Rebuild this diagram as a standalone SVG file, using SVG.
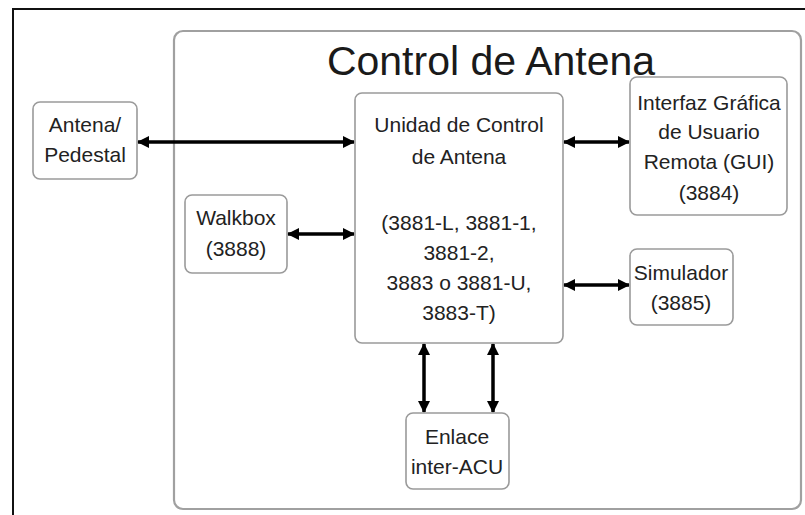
<svg xmlns="http://www.w3.org/2000/svg" width="805" height="515" viewBox="0 0 805 515">
<defs>
<style>
.box{fill:#fff;stroke:#9a9a9a;stroke-width:1.6}
.cont{fill:#fff;stroke:#a0a0a0;stroke-width:2.2}
.t{font-family:"Liberation Sans",Arial,sans-serif;font-size:21px;fill:#222;text-anchor:middle}
.title{font-family:"Liberation Sans",Arial,sans-serif;font-size:41px;fill:#1a1a1a;text-anchor:middle}
.c{stroke:#000;stroke-width:3.5;fill:none;marker-start:url(#ah);marker-end:url(#ah)}
</style>
<marker id="ah" viewBox="0 0 12 12" refX="11" refY="6" markerWidth="12" markerHeight="12" markerUnits="userSpaceOnUse" orient="auto-start-reverse">
<path d="M0,0 L12,6 L0,12 z" fill="#000"/>
</marker>
</defs>
<rect width="805" height="515" fill="#fff"/>
<g id="frame">
<path d="M13,515 L13,9 L805,9" fill="none" stroke="#111" stroke-width="2"/>
</g>
<g id="container">
<rect class="cont" x="174" y="31" width="627" height="478" rx="9"/>
<text class="title" x="491" y="75">Control de Antena</text>
</g>
<g id="connectors">
<line class="c" x1="138" y1="142" x2="354" y2="142"/>
<line class="c" x1="288" y1="234" x2="354" y2="234"/>
<line class="c" x1="564" y1="142" x2="629" y2="142"/>
<line class="c" x1="564" y1="285" x2="629" y2="285"/>
<line class="c" x1="424" y1="344" x2="424" y2="412"/>
<line class="c" x1="493" y1="344" x2="493" y2="412"/>
</g>
<g id="antena">
<rect class="box" x="33" y="102" width="104" height="77" rx="7"/>
<text class="t" x="85" y="132">Antena/</text>
<text class="t" x="85" y="162">Pedestal</text>
</g>
<g id="walkbox">
<rect class="box" x="185" y="195" width="102" height="78" rx="7"/>
<text class="t" x="236" y="225">Walkbox</text>
<text class="t" x="236" y="256">(3888)</text>
</g>
<g id="acu">
<rect class="box" x="355" y="93" width="208" height="250" rx="7"/>
<text class="t" x="459" y="132">Unidad de Control</text>
<text class="t" x="459" y="164">de Antena</text>
<text class="t" x="459" y="230">(3881-L, 3881-1,</text>
<text class="t" x="459" y="260">3881-2,</text>
<text class="t" x="459" y="290">3883 o 3881-U,</text>
<text class="t" x="459" y="320">3883-T)</text>
</g>
<g id="gui">
<rect class="box" x="630" y="77" width="157" height="138" rx="7"/>
<text class="t" x="709" y="110">Interfaz Gráfica</text>
<text class="t" x="709" y="139">de Usuario</text>
<text class="t" x="709" y="169">Remota (GUI)</text>
<text class="t" x="709" y="200">(3884)</text>
</g>
<g id="simulador">
<rect class="box" x="630" y="249" width="103" height="76" rx="7"/>
<text class="t" x="681" y="280">Simulador</text>
<text class="t" x="681" y="310">(3885)</text>
</g>
<g id="enlace">
<rect class="box" x="406" y="413" width="103" height="76" rx="7"/>
<text class="t" x="457" y="444">Enlace</text>
<text class="t" x="457" y="474">inter-ACU</text>
</g>
</svg>
